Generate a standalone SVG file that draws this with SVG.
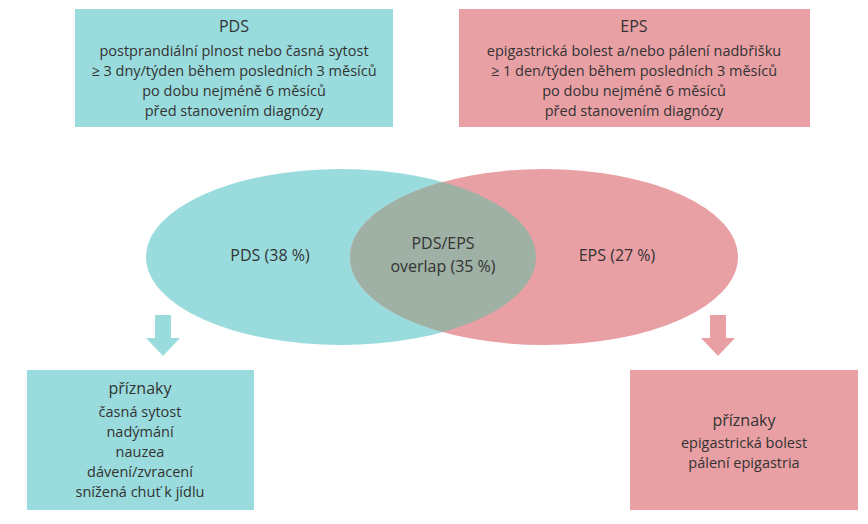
<svg xmlns="http://www.w3.org/2000/svg" width="868" height="524" viewBox="0 0 868 524">
<style>
text{font-family:"Open Sans","Liberation Sans",sans-serif;fill:#333;text-anchor:middle;font-size:14.5px}
.h{font-size:16px}
.t{fill:#9adcdd}.p{fill:#e9a0a5}
</style>
<defs><clipPath id="c"><ellipse cx="341" cy="257" rx="195" ry="88"/></clipPath></defs>
<rect width="868" height="524" fill="#fff"/>
<g id="pds-box"><rect class="t" x="75" y="9" width="318" height="118"/>
<text class="h" x="234" y="32">PDS</text>
<text x="234" y="56">postprandiální plnost nebo časná sytost</text>
<text x="234" y="76">≥ 3 dny/týden během posledních 3 měsíců</text>
<text x="234" y="96">po dobu nejméně 6 měsíců</text>
<text x="234" y="116">před stanovením diagnózy</text></g>
<g id="eps-box"><rect class="p" x="459" y="9" width="351" height="118"/>
<text class="h" x="634" y="32">EPS</text>
<text x="634" y="56">epigastrická bolest a/nebo pálení nadbřišku</text>
<text x="634" y="76">≥ 1 den/týden během posledních 3 měsíců</text>
<text x="634" y="96">po dobu nejméně 6 měsíců</text>
<text x="634" y="116">před stanovením diagnózy</text></g>
<g id="venn">
<ellipse class="t" cx="341" cy="257" rx="195" ry="88"/>
<ellipse class="p" cx="544" cy="257" rx="194" ry="88"/>
<ellipse cx="544" cy="257" rx="194" ry="88" fill="#9fb0a4" clip-path="url(#c)"/>
<text class="h" x="270" y="261">PDS (38 %)</text>
<text class="h" x="443" y="249">PDS/EPS</text>
<text class="h" x="443" y="272">overlap (35 %)</text>
<text class="h" x="617" y="261">EPS (27 %)</text></g>
<g id="connectors">
<polygon class="t" points="155,315 171,315 171,338 180,338 163,356 146,338 155,338"/>
<polygon class="p" points="710,315 726,315 726,338 735,338 718,356 701,338 710,338"/>
</g>
<g id="sym-pds"><rect class="t" x="27" y="370" width="227" height="140"/>
<text class="h" x="140" y="394">příznaky</text>
<text x="140" y="417">časná sytost</text>
<text x="140" y="437">nadýmání</text>
<text x="140" y="457">nauzea</text>
<text x="140" y="477">dávení/zvracení</text>
<text x="140" y="497">snížená chuť k jídlu</text></g>
<g id="sym-eps"><rect class="p" x="630" y="370" width="228" height="140"/>
<text class="h" x="744" y="426">příznaky</text>
<text x="744" y="448">epigastrická bolest</text>
<text x="744" y="468">pálení epigastria</text></g>
</svg>
